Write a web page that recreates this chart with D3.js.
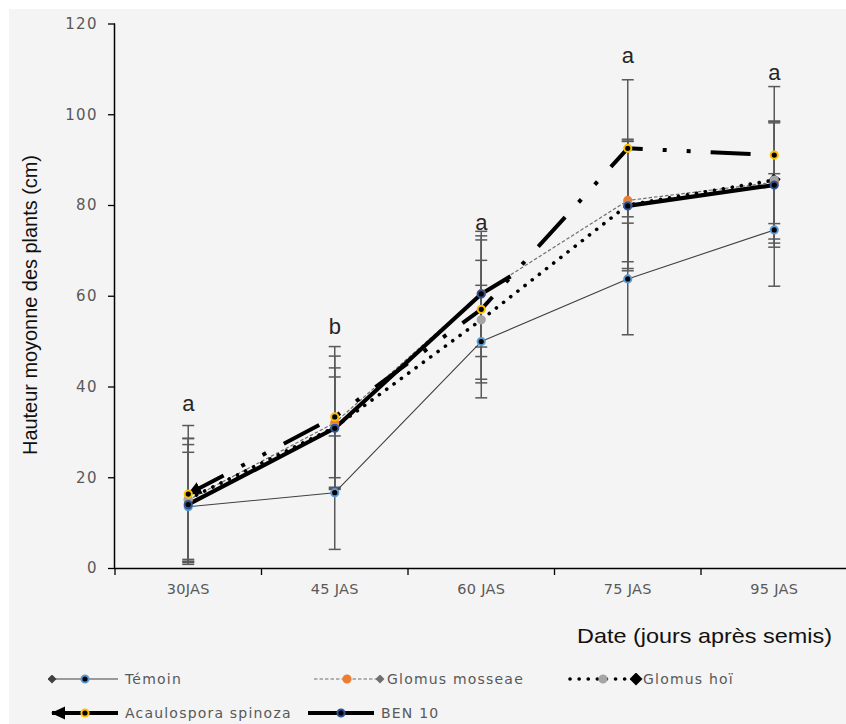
<!DOCTYPE html>
<html>
<head>
<meta charset="utf-8">
<script src="https://cdn.jsdelivr.net/npm/d3@7"></script>
<style>
  html, body { margin: 0; padding: 0; background: #ffffff; }
  svg { display: block; }
</style>
</head>
<body>
<svg id="chart" width="846" height="724"></svg>
<script>
// plant height chart - means with error bars, 5 treatments

const categories = ['30JAS', '45 JAS', '60 JAS', '75 JAS', '95 JAS'];
const yTicks = [0, 20, 40, 60, 80, 100, 120];

const temoin   = [13.5, 16.6, 49.9, 63.7, 74.5];
const temoinSd = [12.0, 12.5, 12.4, 12.3, 12.4];
const mosseae   = [15.0, 32.0, 60.5, 81.0, 85.0];
const mosseaeSd = [13.6, 14.7, 11.8, 13.5, 13.4];
const hoi   = [15.2, 31.0, 54.7, 80.0, 85.5];
const hoiSd = [13.3, 11.1, 13.1, 14.0, 13.0];
const acaulo   = [16.3, 33.3, 57.0, 92.5, 91.0];
const acauloSd = [15.1, 15.5, 16.2, 15.1, 15.1];
const ben10   = [14.0, 30.8, 60.4, 79.8, 84.4];
const ben10Sd = [13.2, 13.3, 13.8, 14.3, 13.7];

const letters  = ['a', 'b', 'a', 'a', 'a'];
const letterAt = [34.6, 51.5, 74.5, 111.2, 107.5];

const svg = d3.select('#chart');
const W = 846, H = 724;
const plotLeft = 115, plotRight = 847.5, plotTop = 23.5, plotBottom = 568;

svg.append('rect').attr('x', 9).attr('y', 9).attr('width', W - 9).attr('height', H - 9).attr('fill', '#f4f4f4');

const x = d3.scaleBand().domain(categories).range([plotLeft, plotRight]);
const y = d3.scaleLinear().domain([0, 120]).range([plotBottom, plotTop]);
const cx = c => x(c) + x.bandwidth() / 2;

// markers for line ends
const defs = svg.append('defs');
function diamond(id, r, color) {
  defs.append('marker').attr('id', id)
    .attr('markerUnits', 'userSpaceOnUse')
    .attr('viewBox', `${-r} ${-r} ${2 * r} ${2 * r}`)
    .attr('markerWidth', 2 * r).attr('markerHeight', 2 * r)
    .attr('refX', 0).attr('refY', 0).attr('orient', 'auto')
    .append('path').attr('d', `M0,${-r}L${r},0L0,${r}L${-r},0Z`).attr('fill', color);
}
diamond('dia-temoin', 4.5, '#404040');
diamond('dia-mosseae', 4.5, '#6f6f6f');
diamond('dia-hoi', 6.5, '#000000');
defs.append('marker').attr('id', 'arrow-acaulo')
  .attr('markerUnits', 'userSpaceOnUse')
  .attr('viewBox', '0 -7 14 14')
  .attr('markerWidth', 14).attr('markerHeight', 14)
  .attr('refX', 13).attr('refY', 0).attr('orient', 'auto-start-reverse')
  .append('path').attr('d', 'M0,-6.5L14,0L0,6.5Z').attr('fill', '#000');

const series = [
  { name: 'Témoin', values: temoin, sd: temoinSd, stroke: '#404040', width: 1.1, dash: null,
    start: 'dia-temoin', end: null, mFill: '#000', mStroke: '#5b9bd5' },
  { name: 'Glomus mosseae', values: mosseae, sd: mosseaeSd, stroke: '#6f6f6f', width: 1.2, dash: '3.5,2', 
    start: null, end: 'dia-mosseae', mFill: '#ed7d31', mStroke: '#ed7d31' },
  { name: 'Glomus hoï', values: hoi, sd: hoiSd, stroke: '#000', width: 3.6, dash: '0.1,9', cap: 'round',
    start: null, end: 'dia-hoi', mFill: '#a5a5a5', mStroke: '#a5a5a5' },
  { name: 'Acaulospora spinoza', values: acaulo, sd: acauloSd, stroke: '#000', width: 4, dash: '40,20,4,20,4,20',
    start: 'arrow-acaulo', end: null, mFill: '#000', mStroke: '#ffc000' },
  { name: 'BEN 10', values: ben10, sd: ben10Sd, stroke: '#000', width: 4.2, dash: null,
    start: null, end: null, mFill: '#000', mStroke: '#2f5597' }
];

// axes
const yAxis = svg.append('g').attr('transform', `translate(${plotLeft},0)`)
  .call(d3.axisLeft(y).tickValues(yTicks).tickSize(7).tickPadding(10));
const xAxis = svg.append('g').attr('transform', `translate(0,${plotBottom})`)
  .call(d3.axisBottom(x).tickSize(0).tickPadding(16));
[yAxis, xAxis].forEach(g => {
  g.select('.domain').attr('stroke', '#000').attr('stroke-width', 1.5);
  g.selectAll('.tick line').attr('stroke', '#000').attr('stroke-width', 1.3);
  g.selectAll('text').attr('fill', '#595959').style('font-family', '"DejaVu Sans", sans-serif');
});
yAxis.select('.domain').attr('d', `M-0.5,${plotTop}V${plotBottom}`);
yAxis.selectAll('text').style('font-size', '15px').style('letter-spacing', '1.4px');
xAxis.select('.domain').attr('d', `M${plotLeft},0.5H${W}`);
xAxis.selectAll('text').style('font-size', '14.5px').style('letter-spacing', '0.3px');
// band boundary ticks
xAxis.selectAll('.bound').data(d3.range(categories.length + 1))
  .join('line')
  .attr('x1', i => plotLeft + i * x.bandwidth())
  .attr('x2', i => plotLeft + i * x.bandwidth())
  .attr('y1', 0).attr('y2', 7).attr('stroke', '#000').attr('stroke-width', 1.3);

// titles
svg.append('text')
  .attr('transform', `translate(37,305) rotate(-90)`)
  .attr('text-anchor', 'middle')
  .attr('textLength', 300).attr('lengthAdjust', 'spacingAndGlyphs')
  .style('font-family', '"Liberation Sans Narrow", "Liberation Sans", Arial, sans-serif')
  .style('font-size', '20px').attr('fill', '#111')
  .text('Hauteur moyonne des plants (cm)');
svg.append('text')
  .attr('x', 577).attr('y', 643)
  .attr('textLength', 255).attr('lengthAdjust', 'spacingAndGlyphs')
  .style('font-family', '"Liberation Sans", Arial, sans-serif')
  .style('font-size', '21px').attr('fill', '#111')
  .text('Date (jours après semis)');

// error bars
const eb = svg.append('g').attr('stroke', '#595959').attr('stroke-width', 1.5);
series.forEach(s => {
  s.values.forEach((v, i) => {
    const xc = cx(categories[i]);
    const lo = y(v - s.sd[i]), hi = y(v + s.sd[i]);
    eb.append('line').attr('x1', xc).attr('x2', xc).attr('y1', lo).attr('y2', hi);
    eb.append('line').attr('x1', xc - 6).attr('x2', xc + 6).attr('y1', lo).attr('y2', lo);
    eb.append('line').attr('x1', xc - 6).attr('x2', xc + 6).attr('y1', hi).attr('y2', hi);
  });
});

// find the path length at which the line reaches a given x
function lengthAtX(node, tx) {
  let a = 0, b = node.getTotalLength();
  for (let k = 0; k < 40; k++) {
    const m = (a + b) / 2;
    if (node.getPointAtLength(m).x < tx) a = m; else b = m;
  }
  return (a + b) / 2;
}

// lines
series.forEach(s => {
  const line = d3.line().x((d, i) => cx(categories[i])).y(d => y(d));
  const p = svg.append('path')
    .attr('d', line(s.values))
    .attr('fill', 'none')
    .attr('stroke', s.stroke)
    .attr('stroke-width', s.width)
    .attr('stroke-linecap', s.cap || 'butt')
    .attr('stroke-linejoin', 'round');
  if (s.dash) p.attr('stroke-dasharray', s.dash);
  if (s.start) p.attr('marker-start', `url(#${s.start})`);
  if (s.end) p.attr('marker-end', `url(#${s.end})`);
  if (s.name === 'BEN 10') {
    // the thick line breaks off a bit after 60 JAS and resumes at 75 JAS
    const node = p.node();
    const total = node.getTotalLength();
    const a = lengthAtX(node, cx(categories[2]) + 0.2 * x.bandwidth());
    const b = lengthAtX(node, cx(categories[3]));
    p.attr('stroke-dasharray', `${a},${b - a},${total}`);
  }
});

// point markers
series.forEach(s => {
  svg.append('g').selectAll('circle').data(s.values).join('circle')
    .attr('cx', (d, i) => cx(categories[i]))
    .attr('cy', d => y(d))
    .attr('r', 3.6)
    .attr('fill', s.mFill)
    .attr('stroke', s.mStroke)
    .attr('stroke-width', 2);
});

// significance letters
svg.append('g').selectAll('text').data(letters).join('text')
  .attr('x', (d, i) => cx(categories[i]))
  .attr('y', (d, i) => y(letterAt[i]))
  .attr('text-anchor', 'middle')
  .style('font-family', '"Liberation Sans", Arial, sans-serif')
  .style('font-size', '22px').attr('fill', '#262626')
  .text(d => d);

// legend
const legendPos = [[52, 679], [314, 679], [570, 679], [52, 713], [308, 713]];
series.forEach((s, i) => {
  const [lx, ly] = legendPos[i];
  const g = svg.append('g').attr('transform', `translate(${lx},${ly})`);
  const l = g.append('line').attr('x1', 0).attr('x2', 66).attr('y1', 0).attr('y2', 0)
    .attr('stroke', s.stroke).attr('stroke-width', s.width)
    .attr('stroke-linecap', s.cap || 'butt');
  if (s.dash && s.name !== 'Acaulospora spinoza') l.attr('stroke-dasharray', s.dash);
  if (s.start) l.attr('marker-start', `url(#${s.start})`);
  if (s.end) l.attr('marker-end', `url(#${s.end})`);
  g.append('circle').attr('cx', 33).attr('cy', 0).attr('r', 3.6)
    .attr('fill', s.mFill).attr('stroke', s.mStroke).attr('stroke-width', 2);
  g.append('text').attr('x', 73).attr('y', 0).attr('dy', '0.35em')
    .style('font-family', '"DejaVu Sans", sans-serif')
    .style('font-size', '14px').style('letter-spacing', '1.2px')
    .attr('fill', '#595959')
    .text(s.name);
});
</script>
</body>
</html>
